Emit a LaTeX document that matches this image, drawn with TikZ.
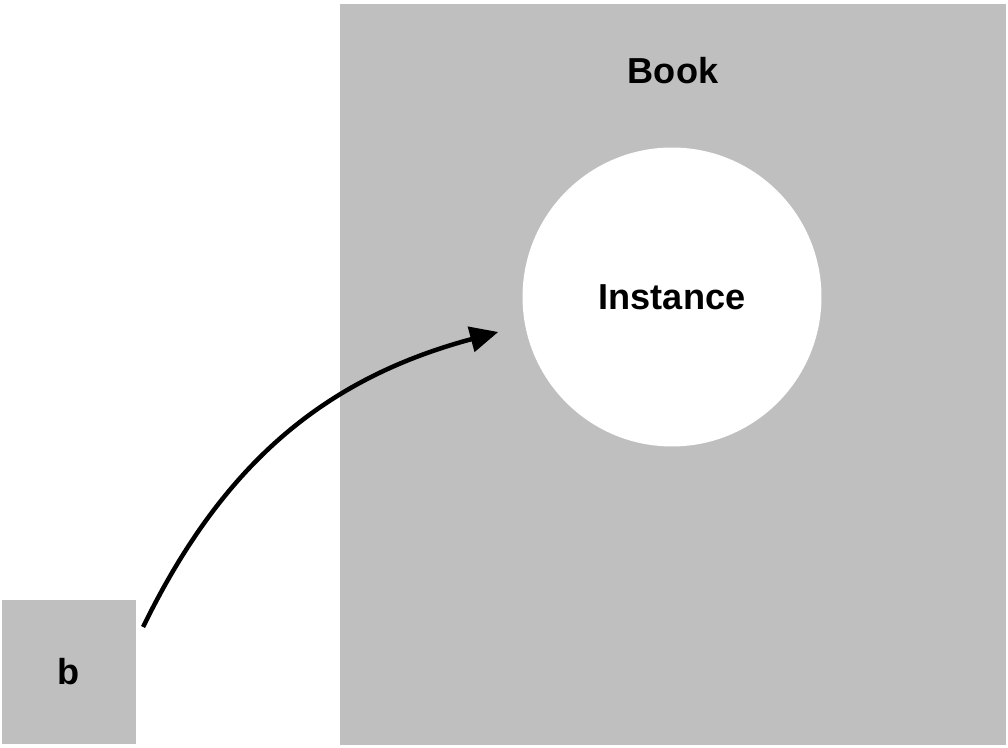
\documentclass[tikz,border=0pt]{standalone}
\usepackage{fontspec}
\setmainfont{Liberation Sans}
\usetikzlibrary{arrows.meta}
\definecolor{boxgray}{rgb}{0.75,0.75,0.75}

\tikzset{
  lbl/.style={font=\fontsize{25.7}{30}\selectfont\bfseries},
  flow/.style={line width=3.2pt,-{Triangle[length=20pt,width=18pt]}}
}

\begin{document}
\begin{tikzpicture}[line cap=butt,line join=round,x=0.025cm,y=0.025cm]
    \useasboundingbox (0,0) rectangle (1008,748);
    \node [fill=boxgray,inner sep=0,minimum width=473.4pt,minimum height=526.6pt,anchor=south west] (book) at (340,3) {};
    \node [lbl] (booklbl) at (673,677) {Book};
    \node [circle,fill=white,inner sep=0,minimum size=212.6pt,lbl] (inst) at (672,451) {Instance};
    \node [fill=boxgray,inner sep=0,minimum width=95pt,minimum height=102pt,lbl] (b) at (69,76) {b};
    \draw [flow] ([shift={(7,-27)}]b.north east) to[out=64,in=195] ([shift={(-24,-35)}]inst.west);
\end{tikzpicture}
\end{document}
